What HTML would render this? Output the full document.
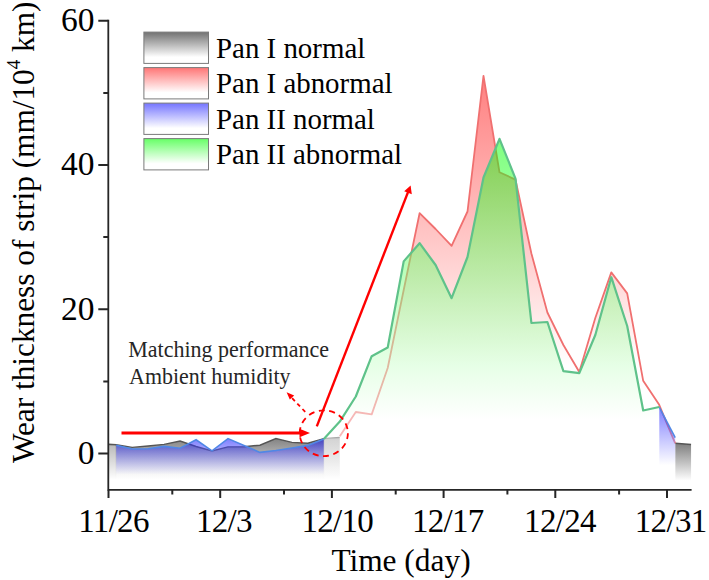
<!DOCTYPE html>
<html><head><meta charset="utf-8"><style>
html,body{margin:0;padding:0;background:#fff;}
body{width:709px;height:580px;overflow:hidden;font-family:"Liberation Serif",serif;}
svg{display:block;}
</style></head><body>
<svg width="709" height="580" viewBox="0 0 709 580">
<defs><linearGradient id="gg" x1="0" y1="0" x2="0" y2="1"><stop offset="0" stop-color="#000000"/><stop offset="0.8" stop-color="#fff"/><stop offset="1" stop-color="#fff"/></linearGradient><linearGradient id="gb" x1="0" y1="0" x2="0" y2="1"><stop offset="0" stop-color="#0000ff"/><stop offset="0.7" stop-color="#fff"/><stop offset="1" stop-color="#fff"/></linearGradient><linearGradient id="gr" x1="0" y1="0" x2="0" y2="1"><stop offset="0" stop-color="#ff0000"/><stop offset="0.7" stop-color="#fff"/><stop offset="1" stop-color="#fff"/></linearGradient><linearGradient id="gn" x1="0" y1="0" x2="0" y2="1"><stop offset="0" stop-color="#00ff00"/><stop offset="0.8" stop-color="#fff"/><stop offset="1" stop-color="#fff"/></linearGradient><linearGradient id="lg" x1="0" y1="0" x2="0" y2="1"><stop offset="0" stop-color="#727272"/><stop offset="0.8" stop-color="#fff"/><stop offset="1" stop-color="#fff"/></linearGradient><linearGradient id="lr" x1="0" y1="0" x2="0" y2="1"><stop offset="0" stop-color="#ff7575"/><stop offset="0.8" stop-color="#fff"/><stop offset="1" stop-color="#fff"/></linearGradient><linearGradient id="lb" x1="0" y1="0" x2="0" y2="1"><stop offset="0" stop-color="#7575ff"/><stop offset="0.8" stop-color="#fff"/><stop offset="1" stop-color="#fff"/></linearGradient><linearGradient id="ln" x1="0" y1="0" x2="0" y2="1"><stop offset="0" stop-color="#66ff66"/><stop offset="0.8" stop-color="#fff"/><stop offset="1" stop-color="#fff"/></linearGradient><clipPath id="pc"><rect x="108.3" y="0" width="583.3000000000001" height="489.8"/></clipPath></defs>
<g clip-path="url(#pc)">
<path d="M108.3,444.2 L116.2,444.8 L132.2,447.4 L148.1,446.0 L164.1,444.4 L180.1,441.0 L196.1,446.5 L212.0,451.0 L228.0,446.9 L244.0,446.7 L259.9,445.2 L275.9,438.6 L291.9,442.4 L307.8,443.2 L323.8,438.6 L339.8,437.4 L339.8,490.0 L108.3,490.0 Z" fill="url(#gg)" fill-opacity="0.5"/>
<path d="M675.2,443.3 L691.1,444.5 L691.1,490.0 L675.2,490.0 Z" fill="url(#gg)" fill-opacity="0.5"/>
<path d="M108.3,444.2 L116.2,444.8 L132.2,447.4 L148.1,446.0 L164.1,444.4 L180.1,441.0 L196.1,446.5 L212.0,451.0 L228.0,446.9 L244.0,446.7 L259.9,445.2 L275.9,438.6 L291.9,442.4 L307.8,443.2 L323.8,438.6 L339.8,437.4" fill="none" stroke="#555555" stroke-width="1.4"/>
<path d="M675.2,443.3 L691.1,444.5" fill="none" stroke="#555555" stroke-width="1.4"/>
<rect x="108.3" y="445.5" width="7.3" height="45" fill="#fff" fill-opacity="0.35"/>
<rect x="324.4" y="438.5" width="15.4" height="52" fill="#fff" fill-opacity="0.3"/>
<path d="M339.8,436.2 L355.8,412.0 L371.7,414.4 L387.7,368.0 L403.7,290.0 L419.6,213.2 L435.6,229.0 L451.6,245.8 L467.5,211.5 L483.5,75.8 L499.5,172.3 L515.5,179.6 L531.4,253.5 L547.4,312.5 L563.4,345.0 L579.3,372.0 L595.3,318.0 L611.3,272.4 L627.2,293.4 L643.2,380.8 L659.2,404.8 L675.2,443.3 L675.2,490.0 L339.8,490.0 Z" fill="url(#gr)" fill-opacity="0.5"/>
<path d="M339.8,436.2 L355.8,412.0 L371.7,414.4 L387.7,368.0 L403.7,290.0 L419.6,213.2 L435.6,229.0 L451.6,245.8 L467.5,211.5 L483.5,75.8 L499.5,172.3 L515.5,179.6 L531.4,253.5 L547.4,312.5 L563.4,345.0 L579.3,372.0 L595.3,318.0 L611.3,272.4 L627.2,293.4 L643.2,380.8 L659.2,404.8 L675.2,443.3" fill="none" stroke="#f07070" stroke-width="1.8" stroke-linejoin="round"/>
<path d="M116.2,445.2 L132.2,449.0 L148.1,448.8 L164.1,446.4 L180.1,448.2 L196.1,439.8 L212.0,450.8 L228.0,438.6 L244.0,445.4 L259.9,452.4 L275.9,450.5 L291.9,448.0 L307.8,445.4 L323.8,439.0 L323.8,490.0 L116.2,490.0 Z" fill="url(#gb)" fill-opacity="0.5"/>
<path d="M659.2,407.0 L675.2,437.7 L675.2,490.0 L659.2,490.0 Z" fill="url(#gb)" fill-opacity="0.5"/>
<path d="M116.2,445.2 L132.2,449.0 L148.1,448.8 L164.1,446.4 L180.1,448.2 L196.1,439.8 L212.0,450.8 L228.0,438.6 L244.0,445.4 L259.9,452.4 L275.9,450.5 L291.9,448.0 L307.8,445.4 L323.8,439.0" fill="none" stroke="#5087e6" stroke-width="1.6"/>
<path d="M659.2,407.0 L675.2,437.7" fill="none" stroke="#5087e6" stroke-width="1.6"/>
<path d="M323.8,438.9 L339.8,421.6 L355.8,396.5 L371.7,356.2 L387.7,347.5 L403.7,261.4 L419.6,243.2 L435.6,265.0 L451.6,298.2 L467.5,257.0 L483.5,177.5 L499.5,138.8 L515.5,178.6 L531.4,323.0 L547.4,322.0 L563.4,371.2 L579.3,373.2 L595.3,335.0 L611.3,277.2 L627.2,326.0 L643.2,410.5 L659.2,407.0 L659.2,490.0 L323.8,490.0 Z" fill="url(#gn)" fill-opacity="0.5"/>
<path d="M323.8,438.9 L339.8,421.6 L355.8,396.5 L371.7,356.2 L387.7,347.5 L403.7,261.4 L419.6,243.2 L435.6,265.0 L451.6,298.2 L467.5,257.0 L483.5,177.5 L499.5,138.8 L515.5,178.6 L531.4,323.0 L547.4,322.0 L563.4,371.2 L579.3,373.2 L595.3,335.0 L611.3,277.2 L627.2,326.0 L643.2,410.5 L659.2,407.0" fill="none" stroke="#5fc28a" stroke-width="2.2" stroke-linejoin="round"/>
</g>
<path d="M108.3,19.7 L108.3,489.8 L691.6,489.8" fill="none" stroke="#262626" stroke-width="1.8"/>
<path d="M98.3,453.5 H108.3 M98.3,309.2 H108.3 M98.3,165.0 H108.3 M98.3,20.7 H108.3 M103.3,381.4 H108.3 M103.3,237.1 H108.3 M103.3,92.9 H108.3 M108.5,489.8 V498.1 M220.2,489.8 V498.1 M331.9,489.8 V498.1 M443.6,489.8 V498.1 M555.3,489.8 V498.1 M667.0,489.8 V498.1 M172.3,489.8 V494.40000000000003 M284.0,489.8 V494.40000000000003 M395.7,489.8 V494.40000000000003 M507.4,489.8 V494.40000000000003 M619.1,489.8 V494.40000000000003" stroke="#262626" stroke-width="2" fill="none"/>
<text x="94.4" y="463.9" font-size="33.5" text-anchor="end" font-family="Liberation Serif" fill="#000">0</text>
<text x="94.4" y="319.6" font-size="33.5" text-anchor="end" font-family="Liberation Serif" fill="#000">20</text>
<text x="94.4" y="175.4" font-size="33.5" text-anchor="end" font-family="Liberation Serif" fill="#000">40</text>
<text x="94.4" y="31.1" font-size="33.5" text-anchor="end" font-family="Liberation Serif" fill="#000">60</text>
<text x="113.50" y="532" font-size="33" letter-spacing="-0.7" text-anchor="middle" font-family="Liberation Serif" fill="#000">11/26</text>
<text x="223.85" y="532" font-size="33" letter-spacing="-0.7" text-anchor="middle" font-family="Liberation Serif" fill="#000">12/3</text>
<text x="337.25" y="532" font-size="33" letter-spacing="-0.7" text-anchor="middle" font-family="Liberation Serif" fill="#000">12/10</text>
<text x="447.85" y="532" font-size="33" letter-spacing="-0.7" text-anchor="middle" font-family="Liberation Serif" fill="#000">12/17</text>
<text x="559.95" y="532" font-size="33" letter-spacing="-0.7" text-anchor="middle" font-family="Liberation Serif" fill="#000">12/24</text>
<text x="670.65" y="532" font-size="33" letter-spacing="-0.7" text-anchor="middle" font-family="Liberation Serif" fill="#000">12/31</text>
<text x="401" y="570.5" font-size="31.4" text-anchor="middle" font-family="Liberation Serif" fill="#000">Time (day)</text>
<text transform="translate(34,232.3) rotate(-90)" x="0" y="0" font-size="31.3" text-anchor="middle" font-family="Liberation Serif" fill="#000">Wear thickness of strip (mm/10<tspan font-size="19" dy="-14">4</tspan><tspan dy="14"> km)</tspan></text>
<rect x="143.9" y="32.1" width="64.6" height="31.3" fill="url(#lg)" stroke="#7a7a7a" stroke-width="1"/>
<text x="216" y="57.6" font-size="28.9" font-family="Liberation Serif" fill="#000">Pan I normal</text>
<rect x="143.9" y="67.6" width="64.6" height="31.3" fill="url(#lr)" stroke="#7a7a7a" stroke-width="1"/>
<text x="216" y="93.1" font-size="28.9" font-family="Liberation Serif" fill="#000">Pan I abnormal</text>
<rect x="143.9" y="103.1" width="64.6" height="31.3" fill="url(#lb)" stroke="#7a7a7a" stroke-width="1"/>
<text x="216" y="128.6" font-size="28.9" font-family="Liberation Serif" fill="#000">Pan II normal</text>
<rect x="143.9" y="138.6" width="64.6" height="31.3" fill="url(#ln)" stroke="#7a7a7a" stroke-width="1"/>
<text x="216" y="164.1" font-size="28.9" font-family="Liberation Serif" fill="#000">Pan II abnormal</text>
<text x="128.3" y="357.4" font-size="23" textLength="200.8" lengthAdjust="spacingAndGlyphs" font-family="Liberation Serif" fill="#262626">Matching performance</text>
<text x="129.1" y="383.6" font-size="23" textLength="161.5" lengthAdjust="spacingAndGlyphs" font-family="Liberation Serif" fill="#262626">Ambient humidity</text>
<path d="M121.5,433.1 H301" stroke="#ff0000" stroke-width="3"/>
<path d="M299.5,428.8 L310,432.9 L299.5,437.2 Z" fill="#ff0000"/>
<path d="M316.8,426.4 L408.6,190.6" stroke="#ff0000" stroke-width="2.4"/>
<path d="M410.6,185.5 L411.8,194.2 L404.2,191.3 Z" fill="#ff0000"/>
<ellipse cx="323.8" cy="433.2" rx="24.1" ry="22.9" fill="none" stroke="#ff0000" stroke-width="1.8" stroke-dasharray="6,4.5"/>
<path d="M305.2,411.9 L290.5,396.4" stroke="#ff0000" stroke-width="1.8" stroke-dasharray="4,3.5"/>
<path d="M286.6,392.2 L294.2,395.6 L289.8,399.6 Z" fill="#ff0000"/>
</svg>
</body></html>
